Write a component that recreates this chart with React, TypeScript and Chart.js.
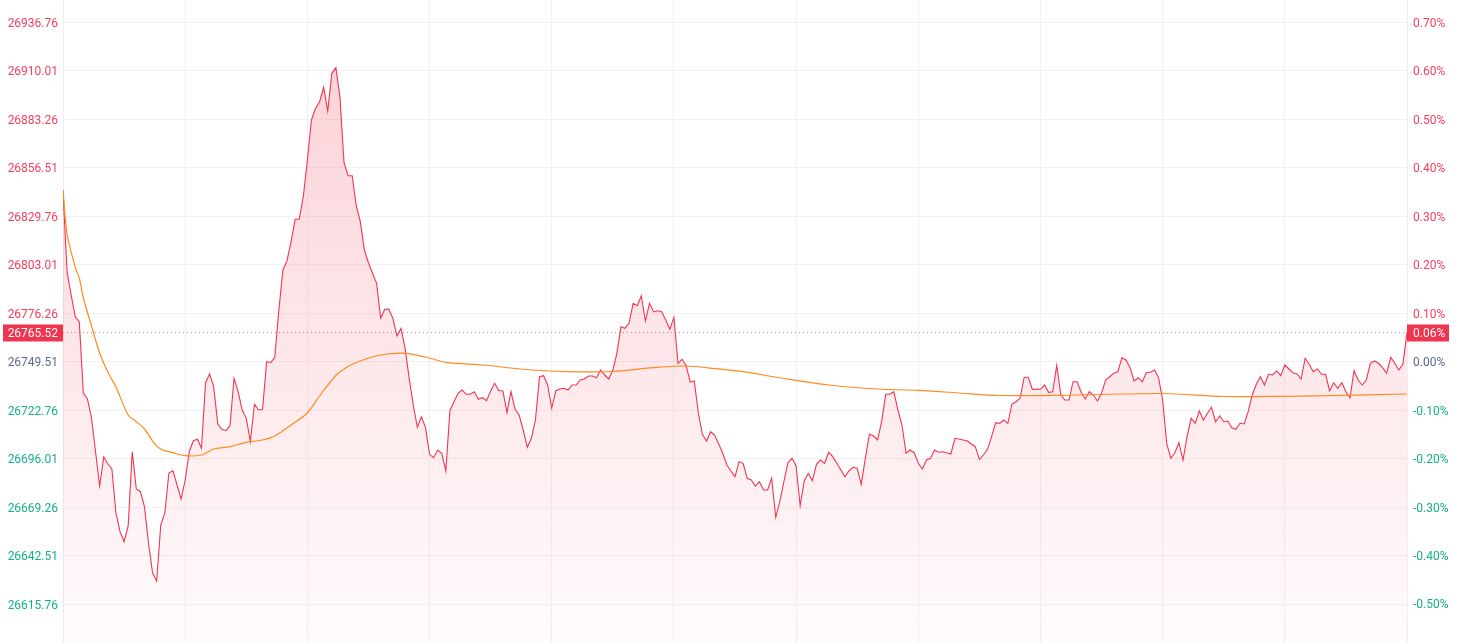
import React, { useEffect, useRef } from "react";
import { Chart, registerables } from "chart.js";

Chart.register(...registerables);

const prevClose = 26749.51;
const tickStep = 26.75;
const tickSteps = [-5, -4, -3, -2, -1, 0, 1, 2, 3, 4, 5, 6, 7];

// one value per trading minute (331 points)
const prices: number[] = [
  26844.10, 26799.04, 26786.19, 26774.22, 26771.46, 26732.14, 26728.83, 26718.35, 26699.59, 26680.84,
  26696.84, 26692.98, 26690.22, 26665.95, 26655.64, 26650.12, 26658.78, 26699.76, 26679.19, 26677.70,
  26669.42, 26649.40, 26632.86, 26628.45, 26659.33, 26665.95, 26688.01, 26689.28, 26681.39, 26673.67,
  26684.15, 26699.76, 26705.83, 26706.60, 26701.64, 26737.82, 26742.62, 26735.61, 26715.04, 26712.12,
  26711.34, 26714.10, 26740.24, 26732.85, 26722.76, 26718.18, 26705.28, 26725.90, 26722.76, 26723.15,
  26749.40, 26748.85, 26751.83, 26777.91, 26799.98, 26805.11, 26815.59, 26827.94, 26827.94, 26840.41,
  26860.65, 26882.71, 26889.16, 26892.80, 26900.74, 26887.67, 26908.47, 26911.56, 26895.56, 26859.16,
  26851.99, 26851.99, 26835.44, 26826.62, 26811.01, 26804.00, 26798.16, 26792.64, 26773.34, 26778.30,
  26778.47, 26773.34, 26763.57, 26767.82, 26756.79, 26740.24, 26725.52, 26713.22, 26719.06, 26713.22,
  26698.33, 26696.45, 26700.70, 26698.88, 26689.12, 26722.37, 26727.34, 26731.97, 26733.79, 26731.42,
  26731.42, 26732.85, 26728.66, 26729.54, 26727.89, 26733.24, 26737.49, 26733.40, 26733.40, 26721.27,
  26732.85, 26723.15, 26720.00, 26711.73, 26702.19, 26707.15, 26717.24, 26741.13, 26741.68, 26736.55,
  26723.70, 26733.40, 26734.34, 26734.73, 26733.79, 26736.55, 26736.55, 26739.31, 26739.86, 26741.51,
  26741.51, 26740.57, 26744.82, 26742.06, 26739.86, 26744.82, 26754.03, 26768.70, 26767.82, 26770.91,
  26781.61, 26780.29, 26785.80, 26771.85, 26781.61, 26776.98, 26777.53, 26776.98, 26772.40, 26767.27,
  26773.89, 26748.52, 26750.72, 26747.30, 26738.20, 26738.75, 26721.11, 26709.36, 26705.66, 26710.79,
  26708.97, 26704.01, 26698.88, 26692.42, 26689.12, 26685.97, 26694.24, 26693.36, 26685.09, 26684.15,
  26680.84, 26683.21, 26678.64, 26678.64, 26685.09, 26663.58, 26672.18, 26683.21, 26693.69, 26696.12,
  26691.87, 26669.98, 26683.60, 26687.85, 26683.77, 26692.81, 26695.18, 26693.36, 26699.43, 26697.00,
  26693.36, 26689.67, 26685.97, 26689.28, 26691.16, 26690.60, 26681.78, 26696.12, 26709.52, 26708.42,
  26706.21, 26716.31, 26731.42, 26731.42, 26732.85, 26722.76, 26714.49, 26698.88, 26700.70, 26699.21,
  26693.36, 26690.22, 26695.18, 26696.12, 26700.70, 26699.43, 26699.76, 26699.21, 26698.49, 26707.15,
  26706.76, 26706.21, 26705.83, 26704.01, 26702.52, 26695.57, 26697.94, 26701.08, 26708.03, 26715.76,
  26715.42, 26717.24, 26715.42, 26726.07, 26727.34, 26729.21, 26740.80, 26740.80, 26734.18, 26734.34,
  26734.18, 26736.55, 26732.52, 26732.85, 26747.41, 26731.03, 26728.28, 26728.28, 26738.37, 26738.37,
  26732.52, 26728.83, 26732.85, 26731.03, 26727.72, 26731.97, 26739.31, 26741.13, 26743.00, 26743.88,
  26751.61, 26750.34, 26746.09, 26738.75, 26740.57, 26738.37, 26743.33, 26743.55, 26744.82, 26740.57,
  26728.28, 26704.39, 26696.12, 26699.21, 26704.72, 26695.18, 26708.03, 26718.18, 26715.42, 26722.37,
  26717.24, 26720.94, 26724.25, 26716.31, 26719.45, 26716.31, 26716.69, 26713.00, 26712.12, 26715.42,
  26715.04, 26721.82, 26731.03, 26736.93, 26741.13, 26736.55, 26742.45, 26742.06, 26744.27, 26741.68,
  26747.58, 26745.37, 26743.33, 26742.62, 26739.86, 26751.27, 26747.97, 26743.88, 26745.37, 26742.45,
  26742.45, 26733.24, 26737.82, 26734.73, 26737.82, 26732.85, 26729.54, 26744.44, 26739.31, 26736.55,
  26739.31, 26748.52, 26749.79, 26748.52, 26746.09, 26743.00, 26751.83, 26748.52, 26744.82, 26748.13,
  26765.52,
];

// average-price line, read at selected minutes
const avgMinutes: number[] = [
  0, 1, 3, 4, 5, 7, 9, 11, 13, 16, 18, 20, 22, 24, 27, 30, 34, 37, 41, 45, 49, 52, 56, 60, 63, 67, 70,
  73, 78, 84, 89, 94, 103, 115, 124, 135, 145, 153, 160, 167, 177, 188, 200, 210, 220, 230, 245, 270,
  285, 300, 315, 330,
];
const avgPrices: number[] = [
  26844.10, 26819.83, 26801.63, 26795.56, 26784.53, 26769.09, 26754.20, 26743.72, 26735.45, 26720.00,
  26716.31, 26712.28, 26705.66, 26701.25, 26699.21, 26697.55, 26697.94, 26701.25, 26702.52, 26704.94,
  26706.21, 26708.42, 26714.49, 26721.11, 26730.48, 26741.79, 26746.75, 26749.79, 26753.10, 26754.03,
  26751.99, 26749.07, 26747.58, 26744.82, 26743.88, 26743.99, 26746.09, 26747.03, 26745.65, 26743.88,
  26740.13, 26736.55, 26734.34, 26733.63, 26732.14, 26730.76, 26730.87, 26731.86, 26730.21, 26730.32,
  26730.87, 26731.58,
];

const RED = "#f0354f";
const TICK_RED = "#f2415e";
const GREEN = "#14b08a";
const NEUTRAL = "#5a6b8f";
const FONT = "Roboto";

export default function App() {
  const ref = useRef<HTMLCanvasElement | null>(null);

  useEffect(() => {
    document.body.style.margin = "0";
    const canvas = ref.current;
    if (!canvas) return;

    const yMin = 26594.25;
    const yMax = 26948.9;
    const pct = (v: number) => ((v - prevClose) / prevClose) * 100;
    const last = prices[prices.length - 1];

    const lastPricePlugin = {
      id: "lastPrice",
      beforeDatasetsDraw(chart: any) {
        const { ctx, chartArea } = chart;
        const y = Math.round(chart.scales.y.getPixelForValue(last)) + 0.5;
        ctx.save();
        ctx.strokeStyle = "rgba(240,53,79,0.7)";
        ctx.lineWidth = 1;
        ctx.setLineDash([1, 3]);
        ctx.beginPath();
        ctx.moveTo(chartArea.left, y);
        ctx.lineTo(chartArea.right, y);
        ctx.stroke();
        ctx.restore();
      },
      afterDraw(chart: any) {
        const { ctx, chartArea } = chart;
        const y = chart.scales.y.getPixelForValue(last);
        ctx.save();
        ctx.font = `12px ${FONT}`;
        ctx.textBaseline = "middle";
        ctx.fillStyle = RED;
        ctx.fillRect(3, y - 8, chartArea.left - 3, 17);
        ctx.fillRect(chartArea.right, y - 8, 42, 17);
        ctx.fillStyle = "#ffffff";
        ctx.textAlign = "right";
        ctx.fillText(last.toFixed(2), chartArea.left - 5, y + 1.5);
        ctx.textAlign = "left";
        ctx.fillText(pct(last).toFixed(2) + "%", chartArea.right + 6, y + 1.5);
        ctx.restore();
      },
    };

    const tickColor = (v: number, base: number) => {
      if (Math.abs(v - base) < 1e-6) return NEUTRAL;
      return v > base ? TICK_RED : GREEN;
    };

    const chart = new Chart(canvas, {
      type: "line",
      data: {
        datasets: [
          {
            label: "avg",
            data: avgMinutes.map((m, i) => ({ x: m, y: avgPrices[i] })),
            borderColor: "#ff8a1f",
            borderWidth: 1.2,
            pointRadius: 0,
            tension: 0.3,
            fill: false,
            order: 0,
          },
          {
            label: "price",
            data: prices.map((p, i) => ({ x: i, y: p })),
            borderColor: RED,
            borderWidth: 1.1,
            pointRadius: 0,
            tension: 0,
            fill: "start",
            order: 1,
            backgroundColor: (c: any) => {
              const area = c.chart.chartArea;
              if (!area) return "rgba(240,53,79,0.1)";
              const g = c.chart.ctx.createLinearGradient(0, area.top, 0, area.bottom);
              g.addColorStop(0, "rgba(240,53,79,0.24)");
              g.addColorStop(1, "rgba(240,53,79,0.02)");
              return g;
            },
          },
        ],
      },
      options: {
        animation: false,
        responsive: false,
        devicePixelRatio: 1,
        layout: { padding: 0 },
        plugins: { legend: { display: false }, tooltip: { enabled: false } },
        scales: {
          x: {
            type: "linear",
            min: 0,
            max: 330,
            ticks: { display: false, stepSize: 30 },
            grid: { color: "#f1f1f3", drawTicks: false },
            border: { display: false },
            afterFit: (s: any) => {
              s.height = 0;
              s.paddingLeft = 0;
              s.paddingRight = 0;
            },
          },
          y: {
            type: "linear",
            position: "left",
            min: yMin,
            max: yMax,
            afterBuildTicks: (s: any) => {
              s.ticks = tickSteps.map((k) => ({ value: prevClose + k * tickStep }));
            },
            afterFit: (s: any) => {
              s.width = 63;
              s.paddingTop = 0;
              s.paddingBottom = 0;
            },
            ticks: {
              padding: 5,
              labelOffset: 1.5,
              font: { family: FONT, size: 12 },
              color: (c: any) => tickColor(c.tick.value, prevClose),
              callback: (v: any) => Number(v).toFixed(2),
            },
            grid: { color: "#f1f1f3", drawTicks: false },
            border: { color: "#eeeef0" },
          },
          y2: {
            type: "linear",
            position: "right",
            min: pct(yMin),
            max: pct(yMax),
            afterBuildTicks: (s: any) => {
              s.ticks = tickSteps.map((k) => ({ value: k / 10 }));
            },
            afterFit: (s: any) => {
              s.width = 51;
              s.paddingTop = 0;
              s.paddingBottom = 0;
            },
            ticks: {
              padding: 6,
              labelOffset: 1.5,
              font: { family: FONT, size: 12 },
              color: (c: any) => tickColor(Math.round(c.tick.value * 100) / 100, 0),
              callback: (v: any) => Number(v).toFixed(2) + "%",
            },
            grid: { display: false, drawTicks: false },
            border: { color: "#eeeef0" },
          },
        },
      },
      plugins: [lastPricePlugin],
    });

    return () => chart.destroy();
  }, []);

  return (
    <div style={{ width: 1458, height: 643, background: "#ffffff" }}>
      <canvas ref={ref} width={1458} height={643} style={{ display: "block" }} />
    </div>
  );
}
